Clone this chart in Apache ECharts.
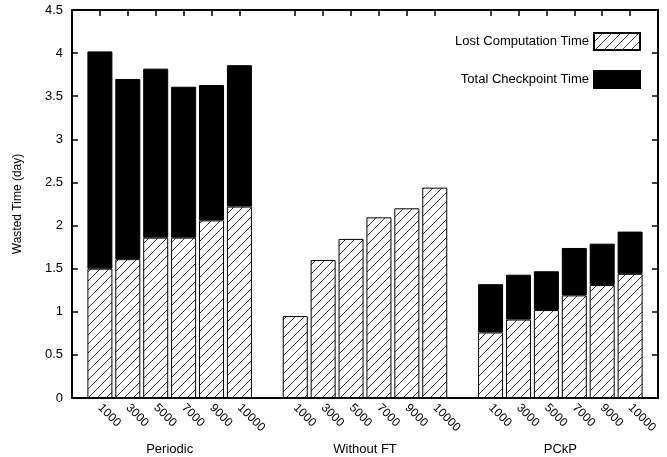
<!DOCTYPE html>
<html>
<head>
<meta charset="utf-8">
<script src="https://cdn.jsdelivr.net/npm/echarts@6/dist/echarts.min.js"></script>
<style>html,body{margin:0;padding:0;background:#fff}#c{width:667px;height:457px}</style>
</head>
<body>
<div id="c"></div>
<script>
// ---- data ----
var sizes = ['1000', '3000', '5000', '7000', '9000', '10000'];
var groups = ['Periodic', 'Without FT', 'PCkP'];
var lostPeriodic = [1.50, 1.61, 1.86, 1.86, 2.06, 2.22];
var ckptPeriodic = [2.52, 2.09, 1.96, 1.75, 1.57, 1.64];
var lostWithoutFT = [0.95, 1.60, 1.845, 2.095, 2.20, 2.44];
var ckptWithoutFT = [0, 0, 0, 0, 0, 0];
var lostPCkP = [0.76, 0.91, 1.02, 1.19, 1.31, 1.44];
var ckptPCkP = [0.56, 0.52, 0.45, 0.55, 0.48, 0.49];
var yTicks = [0, 0.5, 1, 1.5, 2, 2.5, 3, 3.5, 4, 4.5];
var seriesNames = ['Lost Computation Time', 'Total Checkpoint Time'];

// ---- build slot layout: empty slot before, between, after groups ----
var cats = [''];
var lostAll = ['-'];
var ckptAll = ['-'];
var lostG = [lostPeriodic, lostWithoutFT, lostPCkP];
var ckptG = [ckptPeriodic, ckptWithoutFT, ckptPCkP];
for (var g = 0; g < groups.length; g++) {
  for (var i = 0; i < sizes.length; i++) {
    cats.push(sizes[i]);
    lostAll.push(lostG[g][i]);
    ckptAll.push(ckptG[g][i] > 0 ? ckptG[g][i] : '-');
  }
  cats.push('');
  lostAll.push('-');
  ckptAll.push('-');
}

// hatch pattern
var pc = document.createElement('canvas');
pc.width = 9; pc.height = 9;
var ctx = pc.getContext('2d');
ctx.fillStyle = '#fff';
ctx.fillRect(0, 0, 9, 9);
ctx.strokeStyle = '#222';
ctx.lineWidth = 0.9;
ctx.beginPath();
ctx.moveTo(-1, 10); ctx.lineTo(10, -1);
ctx.moveTo(-1, 1); ctx.lineTo(1, -1);
ctx.moveTo(8, 10); ctx.lineTo(10, 8);
ctx.stroke();

var FONT = 'Liberation Sans';
var chart = echarts.init(document.getElementById('c'), null, {renderer: 'canvas'});
var tickSkip = function (idx, val) { return val !== ''; };
chart.setOption({
  animation: false,
  backgroundColor: '#fff',
  textStyle: {fontFamily: FONT, color: '#000'},
  grid: {left: 72, right: 9, top: 10, bottom: 59, containLabel: false},
  legend: {
    orient: 'vertical', right: 26, top: 32, align: 'right', padding: 0,
    icon: 'rect',
    itemWidth: 46, itemHeight: 17, itemGap: 19,
    textStyle: {fontFamily: FONT, fontSize: 13, color: '#000'},
    data: seriesNames
  },
  xAxis: [
    {
      type: 'category', data: cats, boundaryGap: false, position: 'bottom',
      axisLine: {onZero: false, lineStyle: {color: '#000', width: 2}},
      axisTick: {show: false},
      axisLabel: {rotate: -45, margin: 8, interval: 0, fontSize: 12, color: '#000', fontFamily: FONT},
      splitLine: {show: false}
    },
    {
      type: 'category', data: cats, boundaryGap: false, position: 'top',
      axisLine: {show: true, onZero: false, lineStyle: {color: '#000', width: 2}},
      axisTick: {show: true, inside: true, length: 6, interval: tickSkip, lineStyle: {color: '#000', width: 1.5}},
      axisLabel: {show: false},
      splitLine: {show: false}
    },
    {
      type: 'category', data: groups, boundaryGap: true, position: 'bottom',
      axisLine: {show: false, onZero: false}, axisTick: {show: false},
      axisLabel: {margin: 45, fontSize: 13, color: '#000', fontFamily: FONT},
      splitLine: {show: false}
    }
  ],
  yAxis: [
    {
      type: 'value', min: yTicks[0], max: yTicks[yTicks.length - 1], interval: 0.5, position: 'left',
      name: 'Wasted Time (day)', nameLocation: 'middle', nameGap: 48,
      nameTextStyle: {fontSize: 12, color: '#000', fontFamily: FONT},
      axisLine: {show: true, onZero: false, lineStyle: {color: '#000', width: 2}},
      axisTick: {show: true, inside: true, length: 6, lineStyle: {color: '#000', width: 1.5}},
      axisLabel: {margin: 9, fontSize: 13, color: '#000', fontFamily: FONT,
        formatter: function (v) { return String(v); }},
      splitLine: {show: false}
    },
    {
      type: 'value', min: yTicks[0], max: yTicks[yTicks.length - 1], interval: 0.5, position: 'right',
      axisLine: {show: true, onZero: false, lineStyle: {color: '#000', width: 2}},
      axisTick: {show: true, inside: true, length: 6, lineStyle: {color: '#000', width: 1.5}},
      axisLabel: {show: false},
      splitLine: {show: false}
    }
  ],
  series: [
    {
      name: seriesNames[0], type: 'bar', stack: 'w', barWidth: 25,
      xAxisIndex: 0, yAxisIndex: 0,
      itemStyle: {color: {image: pc, repeat: 'repeat'}, borderColor: '#000', borderWidth: 1},
      data: lostAll
    },
    {
      name: seriesNames[1], type: 'bar', stack: 'w', barWidth: 25,
      xAxisIndex: 0, yAxisIndex: 0,
      itemStyle: {color: '#000', borderColor: '#000', borderWidth: 1},
      data: ckptAll
    },
    {
      type: 'line', xAxisIndex: 1, yAxisIndex: 1, data: [], silent: true
    }
  ]
});
</script>
</body>
</html>
